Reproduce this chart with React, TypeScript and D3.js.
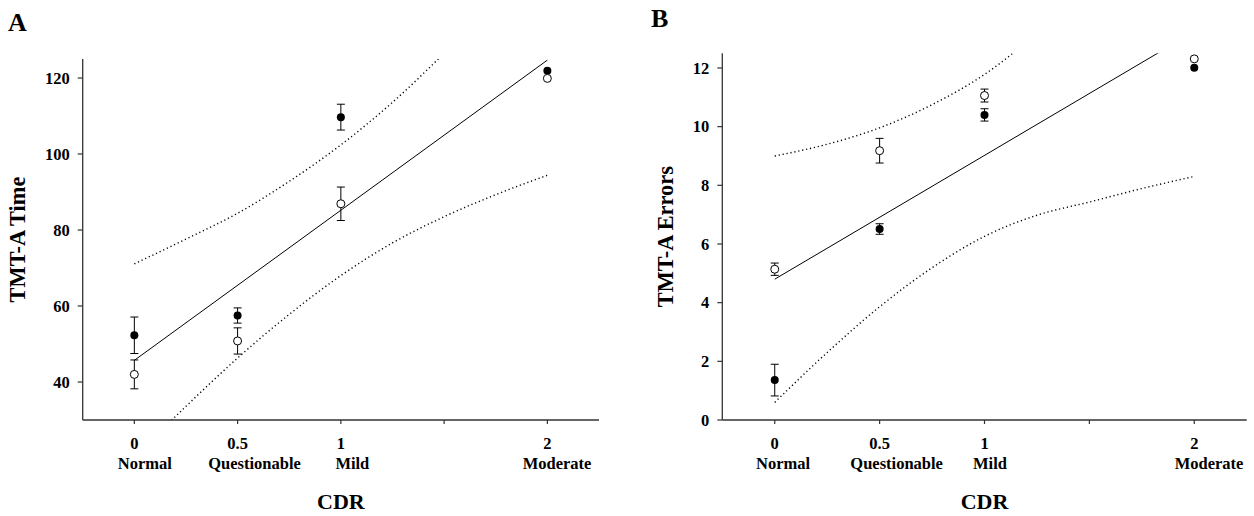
import React from "react";
import * as d3 from "d3";

// ---------- data ----------
const cdrValues = [0, 0.5, 1, 2];
const cdrNumberLabels = ["0", "0.5", "1", "2"];
const cdrCategoryLabels = ["Normal", "Questionable", "Mild", "Moderate"];
const xTickValues = [0, 0.5, 1, 1.5, 2];
const bandX = [0, 0.25, 0.5, 0.75, 1, 1.25, 1.5, 1.75, 2];
const fitX = [0, 2];

// Panel A: TMT-A Time
const timeFilledMean = [52.3, 57.5, 109.7, 121.9];
const timeFilledSE = [4.8, 2.0, 3.4, 0];
const timeOpenMean = [42.0, 50.8, 86.9, 119.9];
const timeOpenSE = [3.8, 3.45, 4.4, 0];
const timeFitY = [45.7, 124.7];
const timeUpper = [71.1, 77.6, 84.4, 92.8, 102.4, 113.6, 126.5, 140.3, 155];
const timeLower = [20.3, 33.6, 46.3, 57.8, 68.0, 76.6, 83.5, 89.3, 94.4];
const timeYTicks = [40, 60, 80, 100, 120];
const timeYDomain = [30, 125];

// Panel B: TMT-A Errors
const errFilledMean = [1.36, 6.51, 10.4, 12.01];
const errFilledSE = [0.54, 0.18, 0.21, 0];
const errOpenMean = [5.14, 9.18, 11.06, 12.31];
const errOpenSE = [0.21, 0.42, 0.22, 0];
const errFitY = [4.8, 13.24];
const errUpper = [9.0, 9.4, 9.96, 10.75, 11.78, 13.18, 14.8, 16.5, 18.2];
const errLower = [0.6, 2.3, 3.86, 5.19, 6.26, 6.98, 7.43, 7.89, 8.3];
const errYTicks = [0, 2, 4, 6, 8, 10, 12];
const errYDomain = [0, 12.5];

// ---------- layout ----------
const FONT = "'Liberation Serif', 'Times New Roman', serif";
const AXIS_COLOR = "#333";

type PanelProps = {
  id: string;
  letter: string;
  letterX: number;
  letterY: number;
  left: number;
  right: number;
  top: number;
  bottom: number;
  yDomain: number[];
  yTicks: number[];
  yTitle: string;
  yTitleX: number;
  catDx: number[];
  filledMean: number[];
  filledSE: number[];
  openMean: number[];
  openSE: number[];
  fitY: number[];
  upper: number[];
  lower: number[];
};

function Panel(p: PanelProps) {
  const x = d3.scaleLinear().domain([-0.25, 2.25]).range([p.left, p.right]);
  const y = d3.scaleLinear().domain(p.yDomain).range([p.bottom, p.top]);
  const line = d3
    .line<[number, number]>()
    .x((d) => x(d[0]))
    .y((d) => y(d[1]));
  const curve = d3
    .line<[number, number]>()
    .x((d) => x(d[0]))
    .y((d) => y(d[1]))
    .curve(d3.curveMonotoneX);
  const fitPts: [number, number][] = fitX.map((v, i) => [v, p.fitY[i]]);
  const upPts: [number, number][] = bandX.map((v, i) => [v, p.upper[i]]);
  const loPts: [number, number][] = bandX.map((v, i) => [v, p.lower[i]]);
  const clipId = `clip-${p.id}`;
  const cap = 4;
  const r = 4;

  const errorBars = (means: number[], se: number[], key: string) =>
    cdrValues.map((c, i) =>
      se[i] > 0 ? (
        <g key={`${key}-${i}`} stroke="#000" strokeWidth={1}>
          <line x1={x(c)} x2={x(c)} y1={y(means[i] - se[i])} y2={y(means[i] + se[i])} />
          <line x1={x(c) - cap} x2={x(c) + cap} y1={y(means[i] + se[i])} y2={y(means[i] + se[i])} />
          <line x1={x(c) - cap} x2={x(c) + cap} y1={y(means[i] - se[i])} y2={y(means[i] - se[i])} />
        </g>
      ) : null
    );

  return (
    <g fontFamily={FONT} fontWeight="bold">
      <defs>
        <clipPath id={clipId}>
          <rect x={p.left} y={p.top} width={p.right - p.left} height={p.bottom - p.top} />
        </clipPath>
      </defs>
      <text x={p.letterX} y={p.letterY} fontSize={26}>
        {p.letter}
      </text>

      {/* fit and confidence band */}
      <g clipPath={`url(#${clipId})`} fill="none">
        <path d={line(fitPts) || ""} stroke="#000" strokeWidth={1} />
        <path d={curve(upPts) || ""} stroke="#000" strokeWidth={1.4} strokeDasharray="1.2,2.8" />
        <path d={curve(loPts) || ""} stroke="#000" strokeWidth={1.4} strokeDasharray="1.2,2.8" />
      </g>

      {/* error bars */}
      {errorBars(p.filledMean, p.filledSE, "f")}
      {errorBars(p.openMean, p.openSE, "o")}

      {/* markers */}
      {cdrValues.map((c, i) => (
        <circle key={`fm-${i}`} cx={x(c)} cy={y(p.filledMean[i])} r={r} fill="#000" />
      ))}
      {cdrValues.map((c, i) => (
        <circle
          key={`om-${i}`}
          cx={x(c)}
          cy={y(p.openMean[i])}
          r={r}
          fill="#fff"
          stroke="#000"
          strokeWidth={1}
        />
      ))}

      {/* axes */}
      <line x1={p.left} x2={p.left} y1={p.top} y2={p.bottom} stroke={AXIS_COLOR} strokeWidth={1.3} />
      <line x1={p.left} x2={p.right} y1={p.bottom} y2={p.bottom} stroke={AXIS_COLOR} strokeWidth={1.3} />
      {p.yTicks.map((t) => (
        <g key={`yt-${t}`}>
          <line x1={p.left - 5} x2={p.left} y1={y(t)} y2={y(t)} stroke={AXIS_COLOR} strokeWidth={1.2} />
          <text x={p.left - 13} y={y(t)} dy="0.34em" textAnchor="end" fontSize={16.5}>
            {t}
          </text>
        </g>
      ))}
      {xTickValues.map((t) => (
        <line
          key={`xt-${t}`}
          x1={x(t)}
          x2={x(t)}
          y1={p.bottom}
          y2={p.bottom + 4}
          stroke={AXIS_COLOR}
          strokeWidth={1.2}
        />
      ))}
      {cdrValues.map((c, i) => (
        <g key={`xl-${i}`} fontSize={16.5} textAnchor="middle">
          <text x={x(c)} y={p.bottom + 29}>
            {cdrNumberLabels[i]}
          </text>
          <text x={x(c) + p.catDx[i]} y={p.bottom + 49}>
            {cdrCategoryLabels[i]}
          </text>
        </g>
      ))}
      <text x={x(1)} y={509} textAnchor="middle" fontSize={22}>
        CDR
      </text>
      <text
        transform={`translate(${p.yTitleX},${(p.top + p.bottom) / 2}) rotate(-90)`}
        textAnchor="middle"
        fontSize={22.4}
      >
        {p.yTitle}
      </text>
    </g>
  );
}

export default function App() {
  return (
    <svg
      width={1254}
      height={516}
      style={{ position: "absolute", left: 0, top: 0, background: "#fff" }}
    >
      <rect width={1254} height={516} fill="#fff" />
      <Panel
        id="a"
        letter="A"
        letterX={8}
        letterY={30.7}
        left={82.7}
        right={599}
        top={59}
        bottom={420}
        yDomain={timeYDomain}
        yTicks={timeYTicks}
        yTitle="TMT-A Time"
        yTitleX={25}
        catDx={[10.5, 17, 11.5, 9.7]}
        filledMean={timeFilledMean}
        filledSE={timeFilledSE}
        openMean={timeOpenMean}
        openSE={timeOpenSE}
        fitY={timeFitY}
        upper={timeUpper}
        lower={timeLower}
      />
      <Panel
        id="b"
        letter="B"
        letterX={651}
        letterY={27.3}
        left={722.3}
        right={1246.7}
        top={53.3}
        bottom={420}
        yDomain={errYDomain}
        yTicks={errYTicks}
        yTitle="TMT-A Errors"
        yTitleX={673}
        catDx={[8.3, 17, 5.5, 14.8]}
        filledMean={errFilledMean}
        filledSE={errFilledSE}
        openMean={errOpenMean}
        openSE={errOpenSE}
        fitY={errFitY}
        upper={errUpper}
        lower={errLower}
      />
    </svg>
  );
}
